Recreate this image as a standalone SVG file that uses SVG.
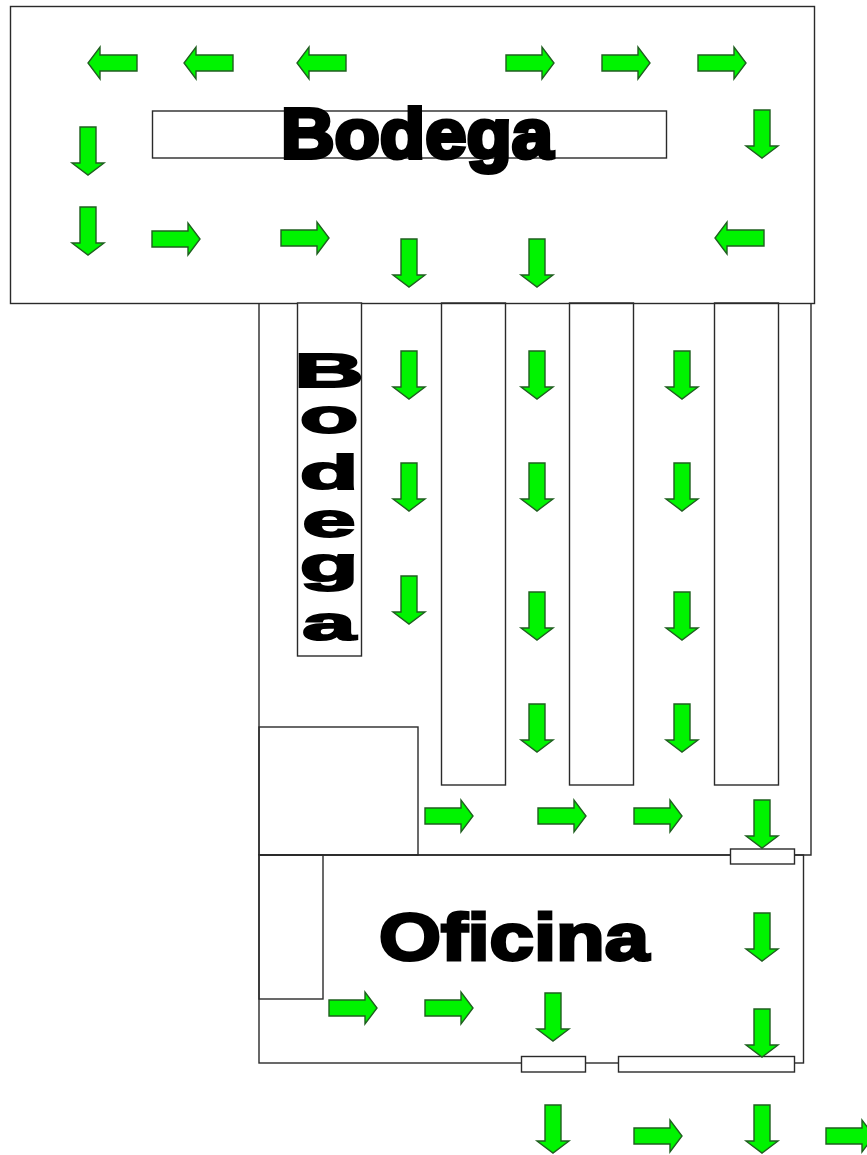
<svg xmlns="http://www.w3.org/2000/svg" width="867" height="1155" viewBox="0 0 867 1155">
<style>
.r{fill:none;stroke:#2a2a2a;stroke-width:1.4}
.w{fill:#fff;stroke:#2a2a2a;stroke-width:1.4}
.a{fill:#00f400;stroke:#1f5f1f;stroke-width:1.4;stroke-linejoin:miter}
.t{font-family:"Liberation Sans",Arial,sans-serif;font-weight:700;fill:#000;stroke:#000}
</style>
<defs>
<polygon id="d" class="a" points="-8,0 8,0 8,36 16,36 0,48 -16,36 -8,36"/>
<polygon id="e" class="a" points="0,-8 36,-8 36,-16 48,0 36,16 36,8 0,8"/>
<polygon id="l" class="a" points="49,-8 12,-8 12,-16 0,0 12,16 12,8 49,8"/>
</defs>
<g id="bodega-top"><rect class="r" x="10.500" y="6.500" width="804" height="297"/><rect class="w" x="152.500" y="111" width="514" height="47"/>
<text class="t" x="281" y="158" font-size="70" stroke-width="4" textLength="272" lengthAdjust="spacingAndGlyphs">Bodega</text></g>
<g id="bodega-floor"><path class="r" d="M259 303V855M811 303V855H259"/></g>
<g id="bodega-side"><rect class="w" x="297.500" y="303" width="64" height="353"/>
<text class="t" font-size="48" stroke-width="2" text-anchor="middle" transform="scale(2 1)" x="164.500 164.500 164.500 164.500 164.500 164.500" y="387 433 489 537 581 640">Bodega</text></g>
<g id="shelf-1"><rect class="r" x="441.500" y="303" width="64" height="482"/></g>
<g id="shelf-2"><rect class="r" x="569.500" y="303" width="64" height="482"/></g>
<g id="shelf-3"><rect class="r" x="714.500" y="303" width="64" height="482"/></g>
<g id="room-small"><rect class="r" x="259" y="727" width="159" height="128"/></g>
<g id="oficina"><rect class="r" x="259" y="855" width="544.500" height="208"/><rect class="r" x="259" y="855" width="64" height="144"/>
<text class="t" x="379" y="960" font-size="66" stroke-width="3" textLength="270" lengthAdjust="spacingAndGlyphs">Oficina</text></g>
<g id="door-1"><rect class="w" x="730.500" y="849" width="64" height="15"/></g>
<g id="door-2"><rect class="w" x="521.500" y="1056.500" width="64" height="15.500"/></g>
<g id="door-3"><rect class="w" x="618.500" y="1056.500" width="176" height="15.500"/></g>
<g id="connectors">
<use href="#l" x="88" y="63"/><use href="#l" x="184" y="63"/><use href="#l" x="297" y="63"/>
<use href="#e" x="506" y="63"/><use href="#e" x="602" y="63"/><use href="#e" x="698" y="63"/>
<use href="#d" x="762" y="110"/><use href="#l" x="715" y="238"/>
<use href="#d" x="88" y="127"/><use href="#d" x="88" y="207"/>
<use href="#e" x="152" y="239"/><use href="#e" x="281" y="238"/>
<use href="#d" x="409" y="239"/><use href="#d" x="537" y="239"/>
<use href="#d" x="409" y="351"/><use href="#d" x="409" y="463"/><use href="#d" x="409" y="576"/>
<use href="#d" x="537" y="351"/><use href="#d" x="537" y="463"/><use href="#d" x="537" y="592"/><use href="#d" x="537" y="704"/>
<use href="#d" x="682" y="351"/><use href="#d" x="682" y="463"/><use href="#d" x="682" y="592"/><use href="#d" x="682" y="704"/>
<use href="#e" x="425" y="816"/><use href="#e" x="538" y="816"/><use href="#e" x="634" y="816"/>
<use href="#d" x="762" y="800"/><use href="#d" x="762" y="913"/><use href="#d" x="762" y="1009"/>
<use href="#e" x="329" y="1008"/><use href="#e" x="425" y="1008"/><use href="#d" x="553" y="993"/>
<use href="#d" x="553" y="1105"/><use href="#e" x="634" y="1136"/><use href="#d" x="762" y="1105"/><use href="#e" x="826" y="1136"/>
</g>
</svg>
